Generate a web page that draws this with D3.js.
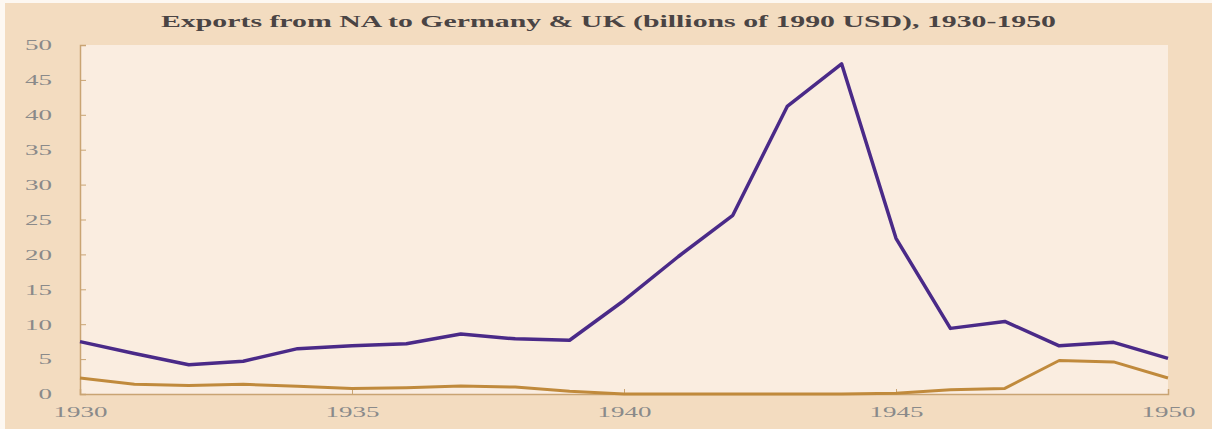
<!DOCTYPE html>
<html><head><meta charset="utf-8">
<script src="https://cdn.jsdelivr.net/npm/d3@7"></script>
<style>
html,body{margin:0;padding:0;background:#fff;}
svg{display:block;}
</style></head>
<body>
<script>
const years = [1930,1931,1932,1933,1934,1935,1936,1937,1938,1939,1940,1941,1942,1943,1944,1945,1946,1947,1948,1949,1950];
const seriesNA = [7.5,5.8,4.2,4.7,6.5,6.9,7.2,8.6,7.9,7.7,13.4,19.7,25.6,41.2,47.3,22.3,9.4,10.4,6.9,7.4,5.1];
const seriesOther = [2.3,1.4,1.2,1.4,1.1,0.8,0.9,1.15,1.0,0.4,0,0,0,0,0,0.1,0.6,0.8,4.8,4.6,2.3];
const yTicks = [0,5,10,15,20,25,30,35,40,45,50];
const xTicks = [1930,1935,1940,1945,1950];
const title = "Exports from NA to Germany & UK (billions of 1990 USD), 1930-1950";

const W = 1212, H = 429;
const m = {left: 80, right: 44, top: 45, bottom: 35};
const svg = d3.select("body").append("svg").attr("width", W).attr("height", H);
svg.append("rect").attr("x",0).attr("y",0).attr("width",W).attr("height",H).attr("fill","#fdf8f2");
svg.append("rect").attr("x",5).attr("y",3).attr("width",W-5).attr("height",H-3).attr("fill","#f3dcc0");

const x = d3.scaleLinear().domain([1930,1950]).range([m.left, W - m.right]);
const y = d3.scaleLinear().domain([0,50]).range([H - m.bottom, m.top]);

svg.append("rect").attr("x", x(1930)).attr("y", y(50)).attr("width", x(1950)-x(1930)).attr("height", y(0)-y(50)).attr("fill","#faede0");

svg.append("text").attr("x", 161).attr("y", 27)
  .attr("textLength", 895).attr("lengthAdjust","spacingAndGlyphs")
  .attr("font-family","'Liberation Serif', 'DejaVu Serif', serif").attr("font-weight","bold")
  .attr("font-size", 16).attr("fill","#4a4444").text(title);

const axisColor = "#c9a473";
const fontTick = "'Liberation Serif', serif";
function styleLabels(sel){
  sel.selectAll(".tick text").attr("font-family",fontTick).attr("font-size",15).attr("fill","#8a8a8a")
    .attr("lengthAdjust","spacingAndGlyphs")
    .attr("textLength", function(){ return this.textContent.length * 13.5; });
}
const yAxis = svg.append("g").attr("transform", `translate(${x(1930)},0)`)
  .call(d3.axisLeft(y).tickValues(yTicks).tickSize(-6).tickPadding(28));
yAxis.select(".domain").attr("stroke", axisColor).attr("stroke-width",1.5);
yAxis.selectAll(".tick line").attr("stroke", axisColor);
styleLabels(yAxis);

const xAxis = svg.append("g").attr("transform", `translate(0,${y(0)})`)
  .call(d3.axisBottom(x).tickValues(xTicks).tickFormat(d3.format("d")).tickSize(-5).tickPadding(12));
xAxis.select(".domain").attr("stroke", axisColor).attr("stroke-width",1.5);
xAxis.selectAll(".tick line").attr("stroke", axisColor);
styleLabels(xAxis);

const line = d3.line().x((d,i)=>x(years[i])).y(d=>y(d));
svg.append("path").datum(seriesOther).attr("d", line).attr("fill","none")
  .attr("stroke","#c08a3c").attr("stroke-width",3).attr("stroke-linejoin","round");
svg.append("path").datum(seriesNA).attr("d", line).attr("fill","none")
  .attr("stroke","#4a2a88").attr("stroke-width",3.5).attr("stroke-linejoin","round");
</script>
</body></html>
